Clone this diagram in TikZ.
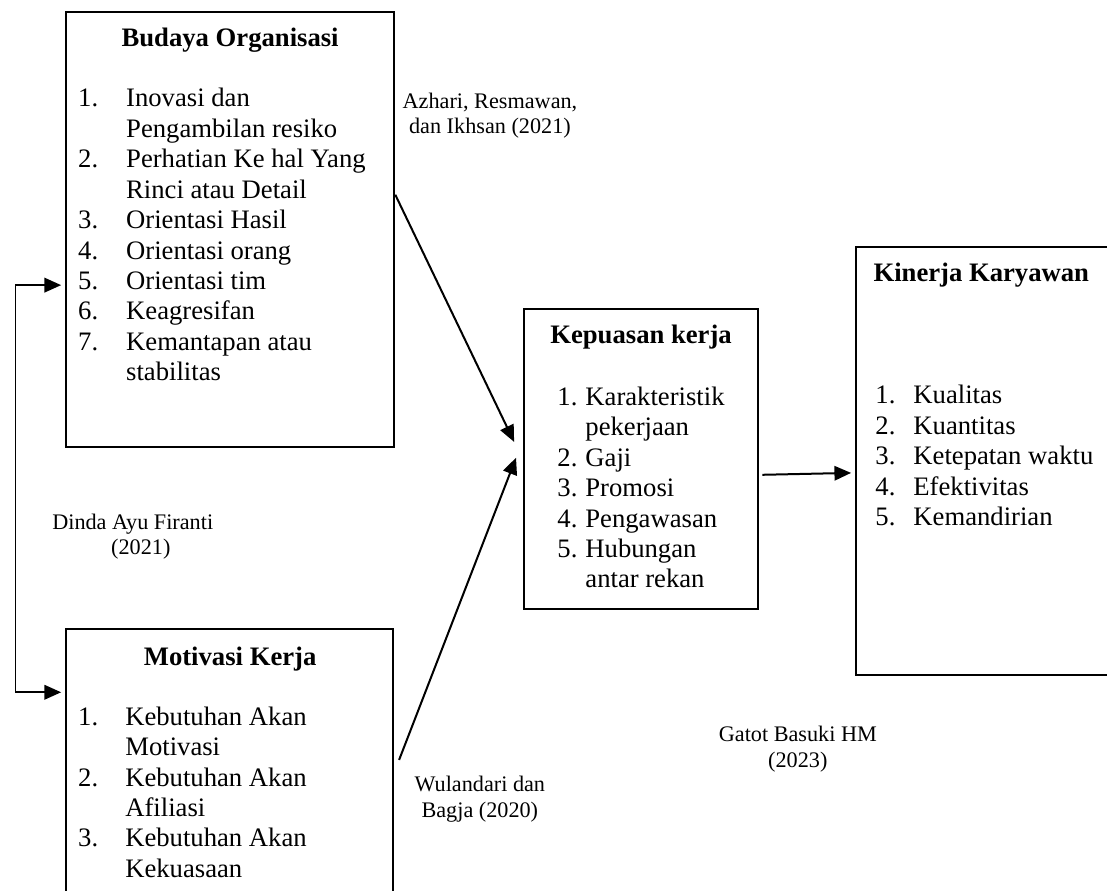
\documentclass[tikz,border=0pt]{standalone}
\usepackage{fontspec}
\setmainfont{Liberation Serif}
\usetikzlibrary{arrows.meta,positioning}
\newcommand{\twelve}{\fontsize{12}{13.7}\selectfont}
\newcommand{\ten}{\fontsize{10}{11.5}\selectfont}
\tikzset{
 every node/.append style={inner sep=0pt,text=black},
 box/.style={draw=black,line width=1pt,inner sep=0pt},
 title/.style={font=\twelve\bfseries,anchor=base},
 items/.style={font=\twelve,anchor=base west,align=left},
 word/.style={font=\ten,align=center},
 flow/.style={-{Triangle[length=7.5pt,width=6.5pt]},draw=black,line width=.9pt},
 route/.style={draw=black,line width=.5pt},
}

\begin{document}
\begin{tikzpicture}

\useasboundingbox (0,0) rectangle (17.51,-14.08);
\node[box,minimum width=5.19cm,minimum height=6.88cm] (budaya) at (3.64,-3.63) {};
\node[box,minimum width=5.17cm,minimum height=4.37cm] (motivasi) at (3.63,-12.13) {};
\node[box,minimum width=3.70cm,minimum height=4.75cm] (kepuasan) at (10.14,-7.26) {};
\node[box,minimum width=4.10cm,minimum height=6.77cm] (kinerja) at (15.59,-7.29) {};
% box contents
\node[title] (budayatitle) at (3.64,-.74) {Budaya Organisasi};
\node[items] (budayalist) at (1.23,-1.69) {\begin{tabular}[t]{@{}p{21.6pt}@{}l@{}}
1. & Inovasi dan\\
 & Pengambilan resiko\\
2. & Perhatian Ke hal Yang\\
 & Rinci atau Detail\\
3. & Orientasi Hasil\\
4. & Orientasi orang\\
5. & Orientasi tim\\
6. & Keagresifan\\
7. & Kemantapan atau\\
 & stabilitas
\end{tabular}};
\node[title] (motivasititle) at (3.64,-10.52) {Motivasi Kerja};
\node[items] (motivasilist) at (1.23,-11.47) {\begin{tabular}[t]{@{}p{21.2pt}@{}l@{}}
1. & Kebutuhan Akan\\
 & Motivasi\\
2. & Kebutuhan Akan\\
 & Afiliasi\\
3. & Kebutuhan Akan\\
 & Kekuasaan
\end{tabular}};
\node[title] (kepuasantitle) at (10.14,-5.44) {Kepuasan kerja};
\node[items] (kepuasanlist) at (8.81,-6.41) {\begin{tabular}[t]{@{}p{12.6pt}@{}l@{}}
1. & Karakteristik\\
 & pekerjaan\\
2. & Gaji\\
3. & Promosi\\
4. & Pengawasan\\
5. & Hubungan\\
 & antar rekan
\end{tabular}};
\node[title,anchor=base west] (kinerjatitle) at (13.81,-4.46) {Kinerja Karyawan};
\node[items] (kinerjalist) at (13.84,-6.39) {\begin{tabular}[t]{@{}p{17.1pt}@{}l@{}}
1. & Kualitas\\
2. & Kuantitas\\
3. & Ketepatan waktu\\
4. & Efektivitas\\
5. & Kemandirian
\end{tabular}};
% sources
\node[word] (azhari) at (7.75,-1.83) {Azhari, Resmawan,\\dan Ikhsan (2021)};
\node[word,align=left,anchor=west] (dinda) at (.82,-8.49) {Dinda Ayu Firanti\\\hspace*{26.5pt}(2021)};
\node[word] (wulandari) at (7.59,-12.64) {Wulandari dan\\Bagja (2020)};
\node[word] (gatot) at (12.62,-11.85) {Gatot Basuki HM\\(2023)};
% arrows
\draw[flow] ([yshift=.55cm]budaya.east) -- ([shift={(-.14,.27)}]kepuasan.west);
\draw[flow] ([shift={(.08,.11)}]motivasi.east) -- ([shift={(-.11,.02)}]kepuasan.west);
\draw[flow] ([shift={(.05,-.25)}]kepuasan.east) -- ([shift={(-.06,-.19)}]kinerja.west);
\coordinate (loopa) at (.24,-4.51);
\coordinate (loopb) at (.24,-10.95);
\draw[route] (loopa) -- (loopb);
\draw[flow,shorten >=.06cm] (loopa) -- (budaya.west |- loopa);
\draw[flow,shorten >=.06cm] (loopb) -- (motivasi.west |- loopb);

\end{tikzpicture}
\end{document}
